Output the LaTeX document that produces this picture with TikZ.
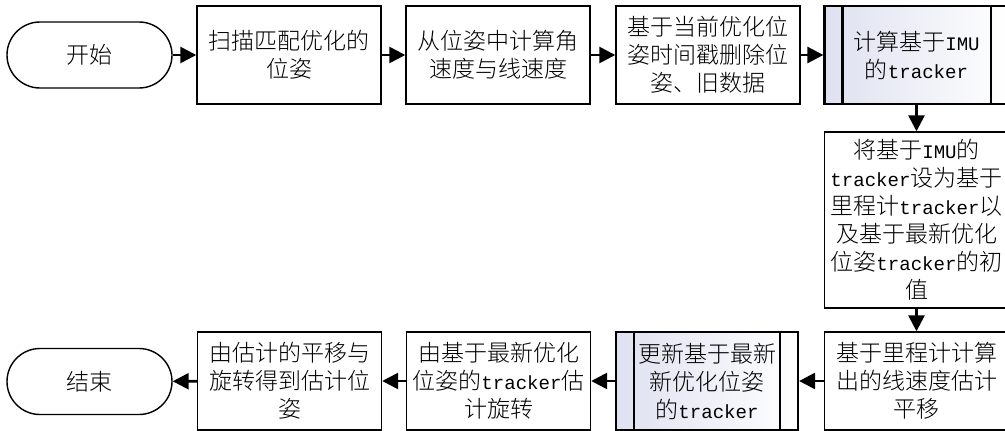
\documentclass[tikz,border=0pt]{standalone}
\usepackage{fontspec}
\setmainfont{Noto Sans CJK SC}[UprightFont={* Light}]
\setmonofont{Liberation Mono}[Scale=0.83]
\usetikzlibrary{arrows.meta}
\newcommand{\en}[1]{\texttt{#1}}
\definecolor{procblue}{RGB}{222,225,240}

\tikzset{
    box/.style={draw, line width=1.4pt, minimum width=184pt, minimum height=98pt,
        align=center, inner sep=0pt, font=\fontsize{23}{28}\selectfont},
    term/.style={draw, line width=1.4pt, rounded corners=33pt, minimum width=165pt,
        minimum height=66pt, font=\fontsize{23}{28}\selectfont},
    proc/.style={box, line width=2.2pt, left color=procblue, right color=white},
    flow/.style={line width=2.6pt, -{Triangle[length=16pt,width=16pt]}}
}

\begin{document}
\begin{tikzpicture}[x=1pt, y=-1pt]
    \useasboundingbox (0,0) rectangle (1005,431);

    % Top row
    \node[term] (start) at (89.5,55) {开始};
    \node[box] (scan) at (289,55) {扫描匹配优化的\\位姿};
    \node[box] (vel) at (498,55) {从位姿中计算角\\速度与线速度};
    \node[box] (prune) at (708,55) {基于当前优化位\\姿时间戳删除位\\姿、旧数据};
    \node[proc] (imu) at (916.5,55) {计算基于\en{IMU}\\的\en{tracker}};

    % Right column
    \node[box, minimum height=176pt] (init) at (916.5,220)
        {将基于\en{IMU}的\\\en{tracker}设为基于\\里程计\en{tracker}以\\及基于最新优化\\位姿\en{tracker}的初\\值};

    % Bottom row
    \node[box] (odom) at (916.5,381) {基于里程计计算\\出的线速度估计\\平移};
    \node[proc, minimum width=182pt] (upd) at (707,381) {更新基于最新\\新优化位姿\\的\en{tracker}};
    \node[box] (rot) at (498.5,381) {由基于最新优化\\位姿的\en{tracker}估\\计旋转};
    \node[box] (pose) at (289.5,381) {由估计的平移与\\旋转得到估计位\\姿};
    \node[term] (stop) at (89.5,381.5) {结束};

    % Inner bars of the process boxes
    \foreach \p in {imu, upd} {
        \draw[line width=2.2pt] ([xshift=19pt]\p.north west) -- ([xshift=19pt]\p.south west);
        \draw[line width=2.2pt] ([xshift=-19pt]\p.north east) -- ([xshift=-19pt]\p.south east);
    }

    % Connectors
    \draw[flow] (start) -- (scan);
    \draw[flow] (scan) -- (vel);
    \draw[flow] (vel) -- (prune);
    \draw[flow] (prune) -- (imu);
    \draw[flow] (imu) -- (init);
    \draw[flow] (init) -- (odom);
    \draw[flow] (odom) -- (upd);
    \draw[flow] (upd) -- (rot);
    \draw[flow] (rot) -- (pose);
    \draw[flow] (pose) -- (stop);
\end{tikzpicture}
\end{document}
